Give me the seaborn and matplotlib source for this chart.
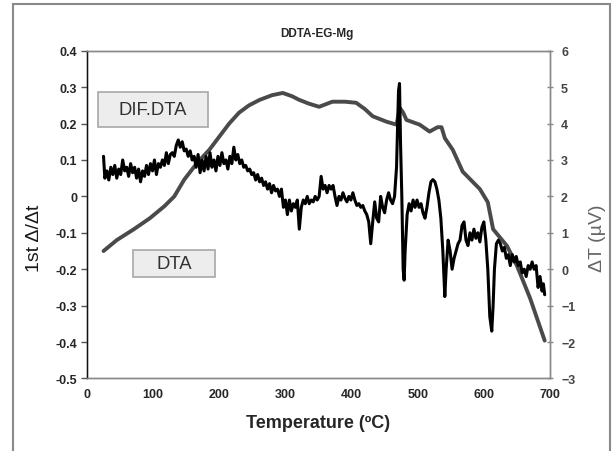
import matplotlib
matplotlib.use("Agg")
import matplotlib.pyplot as plt
import seaborn as sns
import pandas as pd
from matplotlib.patches import Rectangle

# ---------- DATA ----------
# DTA curve (right axis, delta T in uV)
dta_temp = [25, 45, 71, 95, 117, 132, 147, 167, 185, 200, 215, 230, 245, 261,
            280, 296, 310, 321, 335, 351, 371, 390, 407, 420, 432, 453, 468,
            473, 478, 483, 503, 518, 530, 536, 541, 553, 568, 594, 606, 614,
            635, 650, 670, 692]
dta_dt = [0.5, 0.8, 1.1, 1.4, 1.73, 2.0, 2.46, 2.93, 3.28, 3.64, 4.0, 4.3, 4.5,
          4.65, 4.78, 4.84, 4.75, 4.65, 4.55, 4.46, 4.6, 4.6, 4.57, 4.4, 4.2,
          4.05, 3.97, 4.43, 4.3, 4.1, 3.97, 3.78, 3.9, 3.9, 3.6, 3.28, 2.68,
          2.2, 1.84, 1.1, 0.64, 0.1, -0.8, -1.96]

# first derivative curve (left axis)
dif_temp = [25, 27, 30, 33, 36, 39, 42, 45, 48, 51, 54, 57, 60, 63, 66, 69, 72,
            75, 78, 81, 84, 87, 90, 93, 96, 99, 102, 105, 108, 111, 114, 117,
            120, 123, 126, 129, 132, 135, 138, 141, 144, 147, 150, 153, 156,
            159, 162, 165, 168, 171, 174, 177, 180, 183, 186, 189, 192, 195,
            198, 201, 204, 207, 210, 213, 216, 219, 222, 225, 228, 231, 234,
            237, 240, 243, 246, 249, 252, 255, 258, 261, 264, 267, 270, 273,
            276, 279, 282, 285, 288, 291, 294, 297, 300, 303, 306, 309, 312,
            315, 318, 321, 324, 327, 330, 333, 336, 339, 342, 345, 348, 351,
            354, 357, 360, 363, 366, 369, 372, 375, 378, 381, 384, 387, 390,
            393, 396, 399, 402, 405, 408, 411, 414, 417, 420, 423, 426, 429,
            432, 435, 438, 441, 444, 447, 450, 453, 456, 459, 462, 465, 468,
            471, 472.5, 474, 476, 478, 479.5, 481, 484, 487, 490, 493, 496,
            499, 502, 505, 508, 511, 514, 517, 520, 523, 526, 529, 532, 535,
            538, 541, 543, 546, 549, 552, 555, 558, 561, 564, 567, 570, 573,
            576, 579, 582, 585, 588, 591, 594, 597, 600, 603, 606, 609, 612,
            614, 616, 619, 622, 625, 628, 631, 634, 637, 640, 643, 646, 649,
            652, 655, 658, 661, 664, 667, 670, 673, 676, 679, 682, 685, 688,
            690, 692]
dif_val = [0.11, 0.05, 0.07, 0.045, 0.08, 0.06, 0.085, 0.05, 0.075, 0.06, 0.10,
           0.07, 0.08, 0.055, 0.09, 0.065, 0.08, 0.05, 0.075, 0.04, 0.07, 0.055,
           0.085, 0.06, 0.09, 0.07, 0.10, 0.06, 0.09, 0.08, 0.10, 0.085, 0.12,
           0.09, 0.115, 0.12, 0.11, 0.14, 0.155, 0.135, 0.15, 0.125, 0.13, 0.11,
           0.125, 0.10, 0.11, 0.08, 0.115, 0.065, 0.10, 0.07, 0.11, 0.075, 0.12,
           0.08, 0.10, 0.07, 0.11, 0.085, 0.12, 0.09, 0.10, 0.075, 0.11, 0.09,
           0.135, 0.10, 0.115, 0.09, 0.10, 0.08, 0.085, 0.07, 0.075, 0.06,
           0.065, 0.045, 0.06, 0.04, 0.05, 0.03, 0.04, 0.02, 0.035, 0.01, 0.03,
           0.015, 0.02, 0.0, 0.02, -0.03, -0.01, -0.05, -0.01, -0.04, -0.02,
           -0.03, -0.01, -0.09, -0.03, -0.01, -0.02, 0.0, -0.02, -0.01, -0.015,
           0.0, -0.01, 0.0, 0.055, 0.02, 0.03, 0.01, 0.03, 0.02, 0.03, 0.0,
           -0.025, 0.0, -0.01, 0.01, -0.005, -0.015, 0.0, -0.01, 0.01, -0.01,
           -0.025, -0.02, -0.03, -0.025, -0.04, -0.05, -0.07, -0.13, -0.07,
           -0.015, -0.06, -0.07, 0.0, -0.03, -0.045, -0.01, 0.01, -0.01, -0.02,
           0.0, 0.08, 0.29, 0.31, 0.15, 0.0, -0.2, -0.23, -0.15, -0.05, -0.02,
           -0.04, -0.01, -0.03, -0.01, -0.03, -0.02, -0.045, -0.06, -0.03, 0.01,
           0.04, 0.046, 0.04, 0.02, -0.01, -0.06, -0.15, -0.275, -0.2, -0.12,
           -0.15, -0.2, -0.17, -0.15, -0.13, -0.12, -0.08, -0.07, -0.12, -0.135,
           -0.1, -0.12, -0.09, -0.115, -0.1, -0.125, -0.085, -0.07, -0.12, -0.2,
           -0.33, -0.37, -0.3, -0.2, -0.13, -0.12, -0.13, -0.15, -0.14, -0.17,
           -0.16, -0.19, -0.16, -0.18, -0.165, -0.19, -0.18, -0.21, -0.2, -0.22,
           -0.19, -0.2, -0.18, -0.2, -0.19, -0.25, -0.22, -0.26, -0.24, -0.27]

left_ticks = [0.4, 0.3, 0.2, 0.1, 0, -0.1, -0.2, -0.3, -0.4, -0.5]
right_ticks = [6, 5, 4, 3, 2, 1, 0, -1, -2, -3]
x_ticks = [0, 100, 200, 300, 400, 500, 600, 700]

dta = pd.DataFrame({"temp": dta_temp, "dt": dta_dt})
dif = pd.DataFrame({"temp": dif_temp, "val": dif_val})

# ---------- PLOT ----------
sns.set_style("white")
plt.rcParams["font.family"] = ["Liberation Sans", "DejaVu Sans"]

fig = plt.figure(figsize=(6.13, 4.52), dpi=100)
ax = fig.add_axes([0.1419, 0.1604, 0.7553, 0.7252])
ax2 = ax.twinx()

sns.lineplot(data=dif, x="temp", y="val", ax=ax, color="black", linewidth=2.2,
             sort=False, estimator=None)
sns.lineplot(data=dta, x="temp", y="dt", ax=ax2, color="#4a4a4a", linewidth=2.8,
             sort=False, estimator=None)
ax.set_zorder(ax2.get_zorder() + 1)
ax.patch.set_visible(False)

ax.set_xlim(0, 700)
ax.set_ylim(-0.5, 0.4)
ax2.set_ylim(-3, 6)
ax.set_xticks(x_ticks)
ax.set_yticks(left_ticks)
ax2.set_yticks(right_ticks)
ax.set_yticklabels(["0" if v == 0 else f"{v:g}" for v in left_ticks])

ax.tick_params(axis="both", labelsize=9, length=4, width=1, color="#555",
               direction="out", pad=3)
ax2.tick_params(axis="y", labelsize=9, length=4, width=1, color="#888",
                direction="inout", labelcolor="#444", pad=6)
for lab in ax.get_xticklabels() + ax.get_yticklabels() + ax2.get_yticklabels():
    lab.set_fontweight("bold")

for a in (ax, ax2):
    for name, sp in a.spines.items():
        sp.set_visible(True)
        sp.set_color("#888")
        sp.set_linewidth(1.0)
ax.spines["left"].set_color("#111")

ax.set_xlabel("Temperature (ºC)", fontsize=13, fontweight="bold", labelpad=10)
ax.set_ylabel("1st Δ/Δt", fontsize=14, color="#1a1a1a")
ax.yaxis.set_label_coords(-0.095, 0.43)
ax2.set_ylabel("ΔT (µV)", fontsize=14, color="#666")
ax2.yaxis.set_label_coords(1.085, 0.43)

fig.text(0.517, 0.925, "DDTA-EG-Mg", fontsize=8.5, fontweight="bold",
         ha="center", va="center")

# label boxes
for (x0, y0, w, h, txt) in [(98, 93, 110, 35, "DIF.DTA"), (133, 251, 82, 27, "DTA")]:
    fig.patches.append(Rectangle((x0 / 613, 1 - (y0 + h) / 452), w / 613, h / 452,
                                 transform=fig.transFigure, facecolor="#ededed",
                                 edgecolor="#a8a8a8", linewidth=1.2, zorder=5))
    fig.text((x0 + w / 2) / 613, 1 - (y0 + h / 2) / 452, txt, fontsize=13.3,
             color="#333", ha="center", va="center", zorder=6)

# outer frame
fig.patches.append(Rectangle((13.3 / 613, -0.02), (610 - 13.3) / 613, 1 - 5 / 452 + 0.02,
                             transform=fig.transFigure, fill=False,
                             edgecolor="#8a8a8a", linewidth=1.5))

fig.savefig("out.png", dpi=100)
